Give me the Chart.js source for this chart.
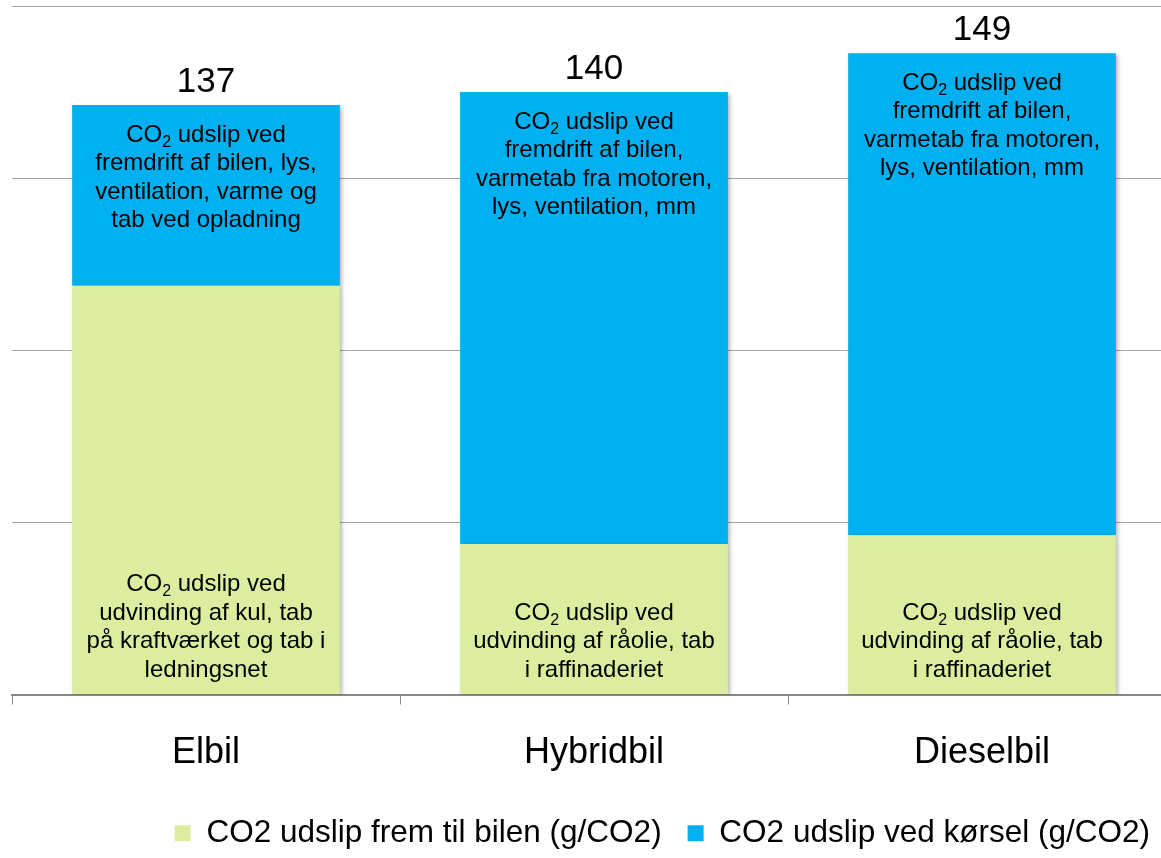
<!DOCTYPE html>
<html>
<head>
<meta charset="utf-8">
<script src="https://cdn.jsdelivr.net/npm/chart.js@4.4.1/dist/chart.umd.min.js"></script>
<style>
  html, body { margin: 0; padding: 0; background: #fff; overflow: hidden; }
  #wrap { width: 1176px; height: 861px; position: relative; }
</style>
</head>
<body>
<div id="wrap"><canvas id="co2Chart"></canvas></div>
<script>
// Data
const categories = ['Elbil', 'Hybridbil', 'Dieselbil'];
const seriesNames = ['CO2 udslip frem til bilen (g/CO2)', 'CO2 udslip ved kørsel (g/CO2)'];
const upstream = [95, 35, 37];
const driving = [42, 105, 112];
const totals = [137, 140, 149];

// Notes inside the bars (CO2 with subscript is drawn specially)
const upstreamNotes = [
    ['CO2 udslip ved', 'udvinding af kul, tab', 'på kraftværket og tab i', 'ledningsnet'],
    ['CO2 udslip ved', 'udvinding af råolie, tab', 'i raffinaderiet'],
    ['CO2 udslip ved', 'udvinding af råolie, tab', 'i raffinaderiet']
];
const drivingNotes = [
    ['CO2 udslip ved', 'fremdrift af bilen, lys,', 'ventilation, varme og', 'tab ved opladning'],
    ['CO2 udslip ved', 'fremdrift af bilen,', 'varmetab fra motoren,', 'lys, ventilation, mm'],
    ['CO2 udslip ved', 'fremdrift af bilen,', 'varmetab fra motoren,', 'lys, ventilation, mm']
];

const FONT = '"Liberation Sans", Arial, sans-serif';
const GREEN = '#DCEDA0';
const BLUE = '#00B0F0';

// Draw one line, CO2 gets a subscript 2
function drawNoteLine(ctx, text, cx, cy, size) {
    ctx.textBaseline = 'middle';
    if (text.startsWith('CO2')) {
        const rest = text.slice(3);
        const small = Math.round(size * 0.68);
        ctx.font = size + 'px ' + FONT;
        const wCO = ctx.measureText('CO').width;
        const wRest = ctx.measureText(rest).width;
        ctx.font = small + 'px ' + FONT;
        const w2 = ctx.measureText('2').width;
        let x = cx - (wCO + w2 + wRest) / 2;
        ctx.textAlign = 'left';
        ctx.font = size + 'px ' + FONT;
        ctx.fillText('CO', x, cy);
        x += wCO;
        ctx.font = small + 'px ' + FONT;
        ctx.fillText('2', x, cy + size * 0.3);
        x += w2;
        ctx.font = size + 'px ' + FONT;
        ctx.fillText(rest, x, cy);
    } else {
        ctx.textAlign = 'center';
        ctx.font = size + 'px ' + FONT;
        ctx.fillText(text, cx, cy);
    }
}

const barShadow = {
    id: 'barShadow',
    beforeDatasetsDraw(chart) {
        const ctx = chart.ctx;
        ctx.save();
        ctx.shadowColor = 'rgba(0,0,0,0.28)';
        ctx.shadowBlur = 4;
        ctx.shadowOffsetX = 2;
        ctx.shadowOffsetY = 2;
    },
    afterDatasetsDraw(chart) {
        chart.ctx.restore();
    }
};

const barNotes = {
    id: 'barNotes',
    afterDatasetsDraw(chart) {
        const ctx = chart.ctx;
        const lineH = 28.5;
        const size = 24;
        ctx.save();
        ctx.fillStyle = '#000';
        const lower = chart.getDatasetMeta(0).data;
        const upper = chart.getDatasetMeta(1).data;
        lower.forEach((bar, i) => {
            const lines = upstreamNotes[i];
            const last = bar.base - 24;
            lines.forEach((t, j) => {
                drawNoteLine(ctx, t, bar.x, last - (lines.length - 1 - j) * lineH, size);
            });
        });
        upper.forEach((bar, i) => {
            const lines = drivingNotes[i];
            lines.forEach((t, j) => {
                drawNoteLine(ctx, t, bar.x, bar.y + 30 + j * lineH, size);
            });
            // total above the bar
            ctx.textAlign = 'center';
            ctx.textBaseline = 'middle';
            ctx.font = '35px ' + FONT;
            ctx.fillText(String(totals[i]), bar.x, bar.y - 23);
        });
        ctx.restore();
    }
};

new Chart(document.getElementById('co2Chart'), {
    type: 'bar',
    data: {
        labels: categories,
        datasets: [
            { label: seriesNames[0], data: upstream, backgroundColor: GREEN },
            { label: seriesNames[1], data: driving, backgroundColor: BLUE }
        ]
    },
    options: {
        responsive: true,
        maintainAspectRatio: false,
        animation: false,
        datasets: { bar: { barPercentage: 0.69, categoryPercentage: 1 } },
        layout: { padding: { left: 12, right: 0, top: 6, bottom: 2 } },
        plugins: {
            tooltip: { enabled: false },
            legend: {
                position: 'bottom',
                align: 'end',
                labels: {
                    font: { family: FONT, size: 31.5 },
                    color: '#000',
                    boxWidth: 16,
                    boxHeight: 16,
                    padding: 26
                }
            }
        },
        scales: {
            x: {
                stacked: true,
                grid: { drawOnChartArea: false, drawTicks: true, tickLength: 10, color: '#888' },
                border: { color: '#888', width: 2 },
                ticks: { color: '#000', font: { family: FONT, size: 36 }, padding: 27 },
                afterFit(scale) { scale.height = 97; }
            },
            y: {
                stacked: true,
                min: 0,
                max: 160,
                ticks: { display: false, stepSize: 40 },
                grid: { drawTicks: false, color: '#A6A6A6' },
                border: { display: false }
            }
        }
    },
    plugins: [barShadow, barNotes]
});
</script>
</body>
</html>
